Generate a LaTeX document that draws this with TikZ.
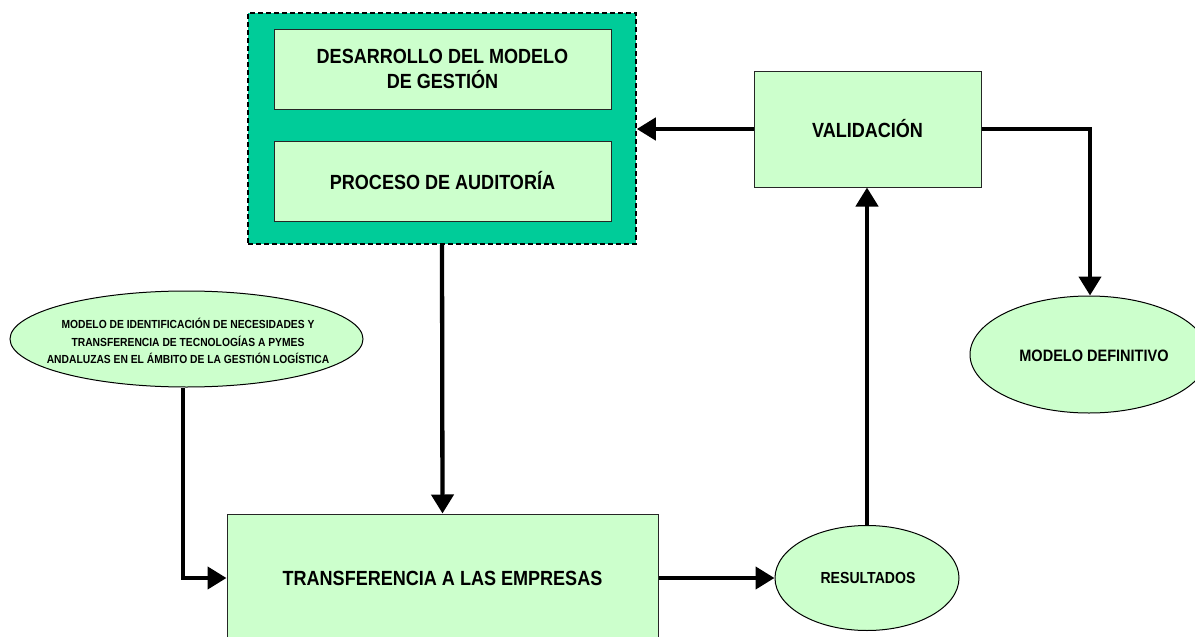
\documentclass[tikz,border=0pt]{standalone}
\usepackage{fontspec}
\newfontfamily\lab{Liberation Sans}[FakeStretch=0.88]
\usetikzlibrary{arrows.meta,shapes.geometric}
\definecolor{teal1}{RGB}{0,204,153}
\definecolor{pale}{RGB}{204,255,204}
\tikzset{
  box/.style={draw=black!85, line width=1pt, fill=pale, rectangle, align=center, inner sep=0pt,
    font=\lab\bfseries\fontsize{20.5}{25}\selectfont},
  oval/.style={draw=black, line width=1pt, fill=pale, ellipse, inner sep=0pt},
  ovaltext/.style={align=center, inner sep=0pt},
  conn/.style={line width=4.3pt, -{Triangle[length=19pt,width=22pt]}},
}
\begin{document}
\begin{tikzpicture}[x=1pt,y=-1pt]
\useasboundingbox (0,0) rectangle (1195,637);
\begin{scope}
\clip (0,0) rectangle (1195,637);
% outer dashed group
\node[draw=black, line width=1.5pt, dash pattern=on 5pt off 3pt, fill=teal1, rectangle,
  minimum width=388pt, minimum height=231pt, inner sep=0pt] (grp) at (442,128.5) {};
\node[box, minimum width=337pt, minimum height=80pt] (dm) at (442.5,69) {DESARROLLO DEL MODELO\\DE GESTIÓN};
\node[box, minimum width=337pt, minimum height=80pt] (pa) at (442.5,181) {PROCESO DE AUDITORÍA};
\node[box, minimum width=227pt, minimum height=116pt] (val) at (867.5,129) {VALIDACIÓN};
\node[box, minimum width=431pt, minimum height=128pt] (tr) at (442.5,578) {TRANSFERENCIA A LAS EMPRESAS};
\node[oval, minimum width=353pt, minimum height=96pt] (mi) at (186.5,339) {};
\node[ovaltext, font=\lab\bfseries\fontsize{11.7}{17.5}\selectfont] (mitxt) at (188,341)
  {MODELO DE IDENTIFICACIÓN DE NECESIDADES Y\\TRANSFERENCIA DE TECNOLOGÍAS A PYMES\\ANDALUZAS EN EL ÁMBITO DE LA GESTIÓN LOGÍSTICA};
\node[oval, minimum width=238pt, minimum height=117pt] (md) at (1089,354.5) {};
\node[ovaltext, font=\lab\bfseries\fontsize{16.5}{20}\selectfont] (mdtxt) at (1094,356) {MODELO DEFINITIVO};
\node[oval, minimum width=184pt, minimum height=105pt] (res) at (867,578) {};
\node[ovaltext, font=\lab\bfseries\fontsize{16}{20}\selectfont] (restxt) at (868,578) {RESULTADOS};
\coordinate (c1) at (1090,129);
\coordinate (c2) at (183,578);
% connectors
\draw[conn] (val.west) -- (grp.east |- val.west);
\draw[conn] (val.east) -- (c1) -- (c1 |- md.north);
\draw[conn] (grp.south) -- (tr.north);
\draw[conn] (mi.south -| c2) -- (c2) -- (tr.west);
\draw[conn] (tr.east) -- (res.west);
\draw[conn] (res.north) -- (val.south -| res.north);
\end{scope}
\end{tikzpicture}
\end{document}
